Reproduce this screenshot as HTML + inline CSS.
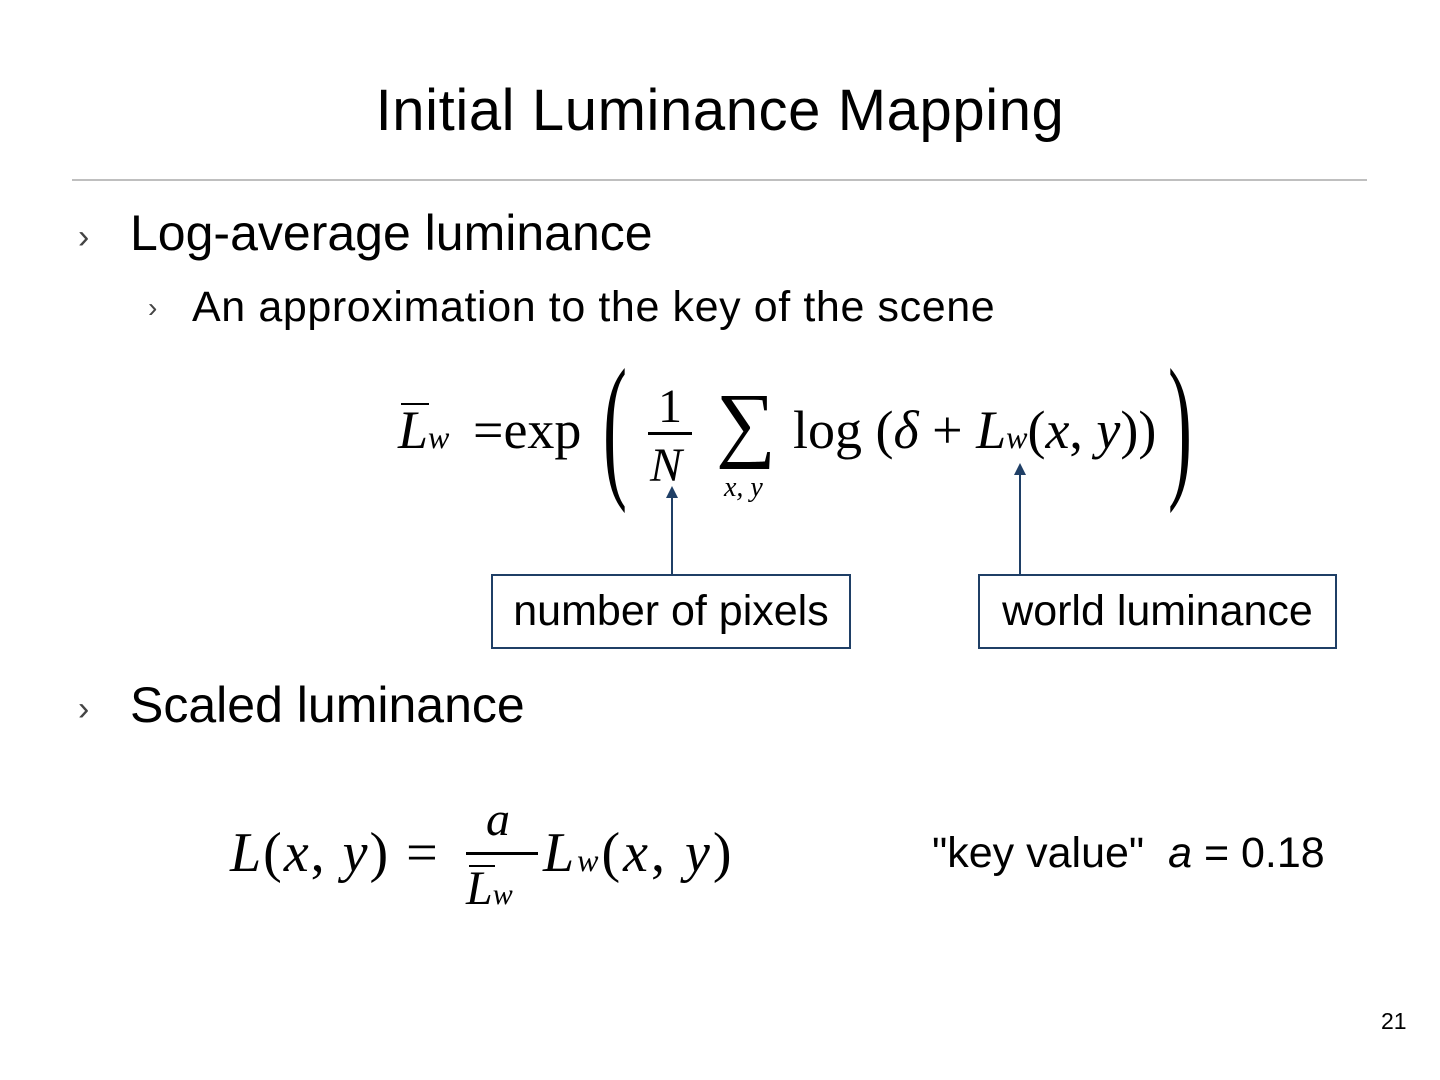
<!DOCTYPE html>
<html><head><meta charset="utf-8"><style>
body{margin:0;width:1440px;height:1080px;background:#fff;position:relative;overflow:hidden;font-family:"Liberation Sans",sans-serif;color:#000}
.a{position:absolute;white-space:nowrap;line-height:1}
.s{font-family:"Liberation Serif",serif}
.i{font-style:italic}
.box{position:absolute;border:2px solid #1f3f66;box-sizing:border-box;font-size:43px;text-align:center;line-height:70px}
</style></head><body>
<div class="a" style="left:0;width:1440px;text-align:center;top:82px;font-size:58px;letter-spacing:0.6px">Initial Luminance Mapping</div>
<div class="a" style="left:72px;top:179px;width:1295px;height:2px;background:#bfbfbf"></div>
<div class="a" style="left:78px;top:220px;font-size:34px;color:#444">›</div>
<div class="a" style="left:130px;top:208px;font-size:50px">Log-average luminance</div>
<div class="a" style="left:148px;top:294px;font-size:28px;color:#444">›</div>
<div class="a" style="left:192px;top:286px;font-size:43px;letter-spacing:0.6px">An approximation to the key of the scene</div>

<!-- formula 1 -->
<div class="a s i" style="left:398px;top:403px;font-size:54px">L<span style="font-size:32px">w</span></div>
<div class="a" style="left:401px;top:403px;width:28px;height:2px;background:#000"></div>
<div class="a s" style="left:473px;top:403px;font-size:54px">=exp</div>
<div class="a s" style="left:603px;top:345px;font-size:160px;transform:scaleX(0.45);transform-origin:left">(</div>
<div class="a s" style="left:658px;top:383px;font-size:48px">1</div>
<div class="a" style="left:648px;top:432px;width:44px;height:3px;background:#000"></div>
<div class="a s i" style="left:650px;top:442px;font-size:48px">N</div>
<div class="a s" style="left:716px;top:382px;font-size:84px">∑</div>
<div class="a s i" style="left:724px;top:474px;font-size:28px">x, y</div>
<div class="a s" style="left:793px;top:403px;font-size:54px">log (<span class="i">δ</span> + <span class="i">L</span><span class="i" style="font-size:32px">w</span>(<span class="i">x</span>, <span class="i">y</span>))</div>
<div class="a s" style="left:1168px;top:345px;font-size:160px;transform:scaleX(0.45);transform-origin:left">)</div>

<svg class="a" style="left:0;top:0" width="1440" height="1080">
<line x1="672" y1="574" x2="672" y2="495" stroke="#1f3f66" stroke-width="2"/>
<polygon points="672,486 666,498 678,498" fill="#1f3f66"/>
<line x1="1020" y1="574" x2="1020" y2="472" stroke="#1f3f66" stroke-width="2"/>
<polygon points="1020,463 1014,475 1026,475" fill="#1f3f66"/>
</svg>
<div class="box" style="left:491px;top:574px;width:360px;height:75px">number of pixels</div>
<div class="box" style="left:978px;top:574px;width:359px;height:75px">world luminance</div>

<div class="a" style="left:78px;top:692px;font-size:34px;color:#444">›</div>
<div class="a" style="left:130px;top:680px;font-size:50px">Scaled luminance</div>

<!-- formula 2 -->
<div class="a s" style="left:230px;top:825px;font-size:56px;letter-spacing:2px"><span class="i">L</span>(<span class="i">x</span>, <span class="i">y</span>) =</div>
<div class="a s i" style="left:486px;top:796px;font-size:48px">a</div>
<div class="a" style="left:466px;top:852px;width:72px;height:3px;background:#000"></div>
<div class="a s i" style="left:466px;top:865px;font-size:48px">L<span style="font-size:30px">w</span></div>
<div class="a" style="left:469px;top:865px;width:26px;height:2px;background:#000"></div>
<div class="a s" style="left:543px;top:825px;font-size:56px;letter-spacing:3px"><span class="i">L</span><span class="i" style="font-size:32px">w</span>(<span class="i">x</span>, <span class="i">y</span>)</div>

<div class="a" style="left:932px;top:832px;font-size:43px">"key value"&nbsp; <span class="i">a</span> = 0.18</div>
<div class="a" style="left:1381px;top:1010px;font-size:23px">21</div>
</body></html>
